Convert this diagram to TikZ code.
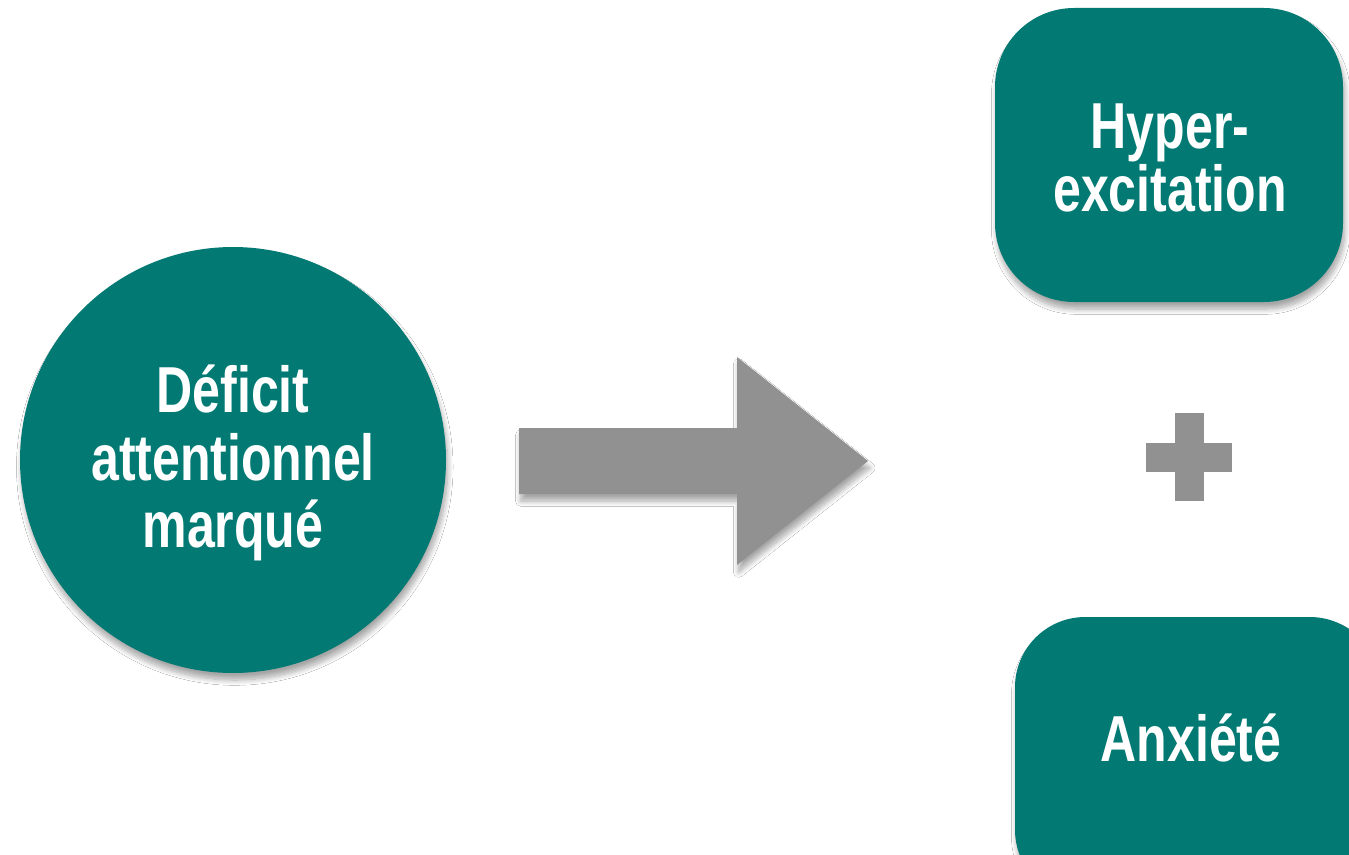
\documentclass[tikz,border=0pt]{standalone}
\usepackage{fontspec}
\newfontfamily\labfont{Liberation Sans}[FakeStretch=0.77]
\usetikzlibrary{shadows.blur}
\definecolor{teal}{HTML}{027A73}
\definecolor{arrowgray}{HTML}{919191}
\tikzset{
  softshadow/.style={blur shadow={shadow xshift=1pt, shadow yshift=-4pt, shadow blur steps=10, shadow blur radius=3pt, shadow opacity=35}},
  labeltext/.style={text=white, font=\labfont\bfseries\fontsize{37}{#1}\selectfont, align=center, inner sep=0pt},
  labeltext/.default=36,
  tealbox/.style={fill=teal, draw=none, rounded corners=#1, softshadow},
}
\begin{document}
\begin{tikzpicture}[x=0.02cm, y=-0.02cm]
\useasboundingbox (0,0) rectangle (1349,855);
\fill[white] (0,0) rectangle (1349,855);
\begin{scope}
\clip (0,0) rectangle (1349,855);
% circle
\fill[teal, softshadow] (233,460) circle[radius=213];
\node[labeltext=38.5] (def) at (233,463) {Déficit\\attentionnel\\marqué};
% big arrow
\fill[arrowgray, softshadow] (519,428) -- (737,428) -- (737,357) -- (868,461) -- (737,565) -- (737,494) -- (519,494) -- cycle;
% top box
\fill[tealbox=45] (995,8) rectangle (1343,302);
\node[labeltext] (hyp) at (1170,158) {Hyper-\\excitation};
% plus sign
\fill[arrowgray] (1146,443) rectangle (1232,472);
\fill[arrowgray] (1175,413) rectangle (1204,501);
\node[inner sep=0pt] (plus) at (1189,458) {};
% bottom box
\fill[tealbox=40] (1015,617) rectangle (1380,900);
\node[labeltext] (anx) at (1191,738) {Anxiété};
\end{scope}
\end{tikzpicture}
\end{document}
